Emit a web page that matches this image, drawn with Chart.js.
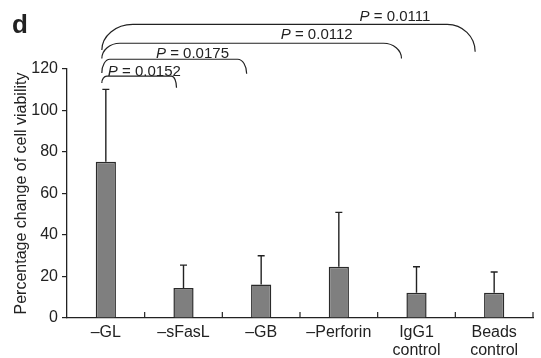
<!DOCTYPE html>
<html>
<head>
<meta charset="utf-8">
<script src="https://cdn.jsdelivr.net/npm/chart.js@4.4.1/dist/chart.umd.min.js"></script>
<style>
  html, body { margin: 0; padding: 0; background: #fff; }
  #wrap { width: 541px; height: 358px; }
</style>
</head>
<body>
<div id="wrap"><canvas id="viabilityChart"></canvas></div>
<script>
// Data
const categories = [["–GL"], ["–sFasL"], ["–GB"], ["–Perforin"], ["IgG1", "control"], ["Beads", "control"]];
const meanValues = [75.3, 14.5, 16.2, 24.7, 12.2, 12.2];
const errorValues = [34.9, 11.0, 13.8, 26.2, 12.5, 10.0];
const yTicks = [0, 20, 40, 60, 80, 100, 120];

// Significance brackets: all start at –GL, end at the target category
const pTargets = [1, 2, 4, 5];
const pLabels = ["0.0152", "0.0175", "0.0112", "0.0111"];

const FONT = "'Liberation Sans', Arial, sans-serif";
const INK = "#222";

// bracket drawing style (line level / end levels in y-axis units)
const bracketStyle = [
  { top: 116.6, leftEnd: 113.3, rightEnd: 111.0, rightShift: -7, rl: 5, rr: 5, textX: "left", textDy: 0 },
  { top: 124.7, leftEnd: 118.1, rightEnd: 117.7, rightShift: -14.5, rl: 8, rr: 9, textX: 192.5, textDy: -1 },
  { top: 132.4, leftEnd: 125.1, rightEnd: 125.1, rightShift: -15, rl: 18, rr: 18, textX: 316.7, textDy: -4 },
  { top: 141.5, leftEnd: 129.1, rightEnd: 128.3, rightShift: -19, rl: 31, rr: 28, textX: 395, textDy: -3 },
];

const overlayPlugin = {
  id: "overlay",
  afterDatasetsDraw(chart) {
    const ctx = chart.ctx;
    const xs = chart.scales.x;
    const ys = chart.scales.y;
    const meta = chart.getDatasetMeta(0);

    ctx.save();
    // error bars (upper only)
    ctx.strokeStyle = INK;
    ctx.lineWidth = 1.4;
    meta.data.forEach((bar, i) => {
      const yTop = ys.getPixelForValue(meanValues[i] + errorValues[i]);
      ctx.beginPath();
      ctx.moveTo(bar.x, bar.y);
      ctx.lineTo(bar.x, yTop);
      ctx.moveTo(bar.x - 3.5, yTop);
      ctx.lineTo(bar.x + 3.5, yTop);
      ctx.stroke();
    });

    // inward ticks on the x axis at category boundaries
    const bottom = chart.chartArea.bottom;
    const step = xs.getPixelForValue(1) - xs.getPixelForValue(0);
    ctx.lineWidth = 1.2;
    for (let i = 0; i < categories.length; i++) {
      const bx = xs.getPixelForValue(i) + step / 2;
      ctx.beginPath();
      ctx.moveTo(bx, bottom);
      ctx.lineTo(bx, bottom - 6);
      ctx.stroke();
    }

    // significance brackets
    const k = 0.55;
    const xL = xs.getPixelForValue(0) - 4;
    ctx.lineWidth = 1.2;
    pTargets.forEach((t, i) => {
      const s = bracketStyle[i];
      const xR = xs.getPixelForValue(t) + s.rightShift;
      const yT = ys.getPixelForValue(s.top);
      const yBL = ys.getPixelForValue(s.leftEnd);
      const yBR = ys.getPixelForValue(s.rightEnd);
      ctx.beginPath();
      ctx.moveTo(xL, yBL);
      ctx.bezierCurveTo(xL, yBL - k * (yBL - yT), xL + s.rl - k * s.rl, yT, xL + s.rl, yT);
      ctx.lineTo(xR - s.rr, yT);
      ctx.bezierCurveTo(xR - s.rr + k * s.rr, yT, xR, yBR - k * (yBR - yT), xR, yBR);
      ctx.stroke();

      // label "P = value" with italic P
      const pPart = "P";
      const rest = " = " + pLabels[i];
      ctx.fillStyle = INK;
      ctx.textBaseline = "alphabetic";
      ctx.font = "italic 15px " + FONT;
      const wP = ctx.measureText(pPart).width;
      ctx.font = "15px " + FONT;
      const wR = ctx.measureText(rest).width;
      const total = wP + wR;
      const x0 = s.textX === "left" ? xL + 6 : s.textX - total / 2;
      const yText = yT + s.textDy;
      ctx.font = "italic 15px " + FONT;
      ctx.textAlign = "left";
      ctx.fillText(pPart, x0, yText);
      ctx.font = "15px " + FONT;
      ctx.fillText(rest, x0 + wP, yText);
    });

    // panel letter
    ctx.font = "bold 26px " + FONT;
    ctx.textAlign = "left";
    ctx.fillText("d", 12, 33);

    // y-axis title
    ctx.translate(22, (chart.chartArea.top + chart.chartArea.bottom) / 2);
    ctx.rotate(-Math.PI / 2);
    ctx.textAlign = "center";
    ctx.textBaseline = "middle";
    ctx.font = "16px " + FONT;
    ctx.fillText("Percentage change of cell viability", 0, 0);
    ctx.restore();
  },
};

new Chart(document.getElementById("viabilityChart"), {
  type: "bar",
  data: {
    labels: categories,
    datasets: [
      {
        data: meanValues,
        backgroundColor: "#7f7f7f",
        borderColor: "#2a2a2a",
        borderWidth: 1.5,
        categoryPercentage: 1,
        barPercentage: 0.26,
      },
    ],
  },
  options: {
    responsive: true,
    maintainAspectRatio: false,
    animation: false,
    layout: { padding: { top: 69, right: 8, left: 0, bottom: 0 } },
    plugins: {
      legend: { display: false },
      tooltip: { enabled: false },
    },
    scales: {
      x: {
        offset: true,
        grid: { display: false, drawTicks: false },
        border: { display: true, color: INK, width: 1.3 },
        ticks: {
          color: INK,
          font: { family: FONT, size: 16, lineHeight: 1.15 },
          padding: 5,
          maxRotation: 0,
          autoSkip: false,
        },
        afterFit(scale) { scale.height = 40; },
      },
      y: {
        min: 0,
        max: 120,
        afterBuildTicks(scale) { scale.ticks = yTicks.map((v) => ({ value: v })); },
        grid: {
          drawOnChartArea: false,
          drawTicks: true,
          tickLength: 5,
          color: INK,
          lineWidth: 1.2,
        },
        border: { display: true, color: INK, width: 1.3 },
        ticks: {
          color: INK,
          font: { family: FONT, size: 16 },
          padding: 4,
        },
        afterFit(scale) { scale.width = 67; },
      },
    },
  },
  plugins: [overlayPlugin],
});
</script>
</body>
</html>
